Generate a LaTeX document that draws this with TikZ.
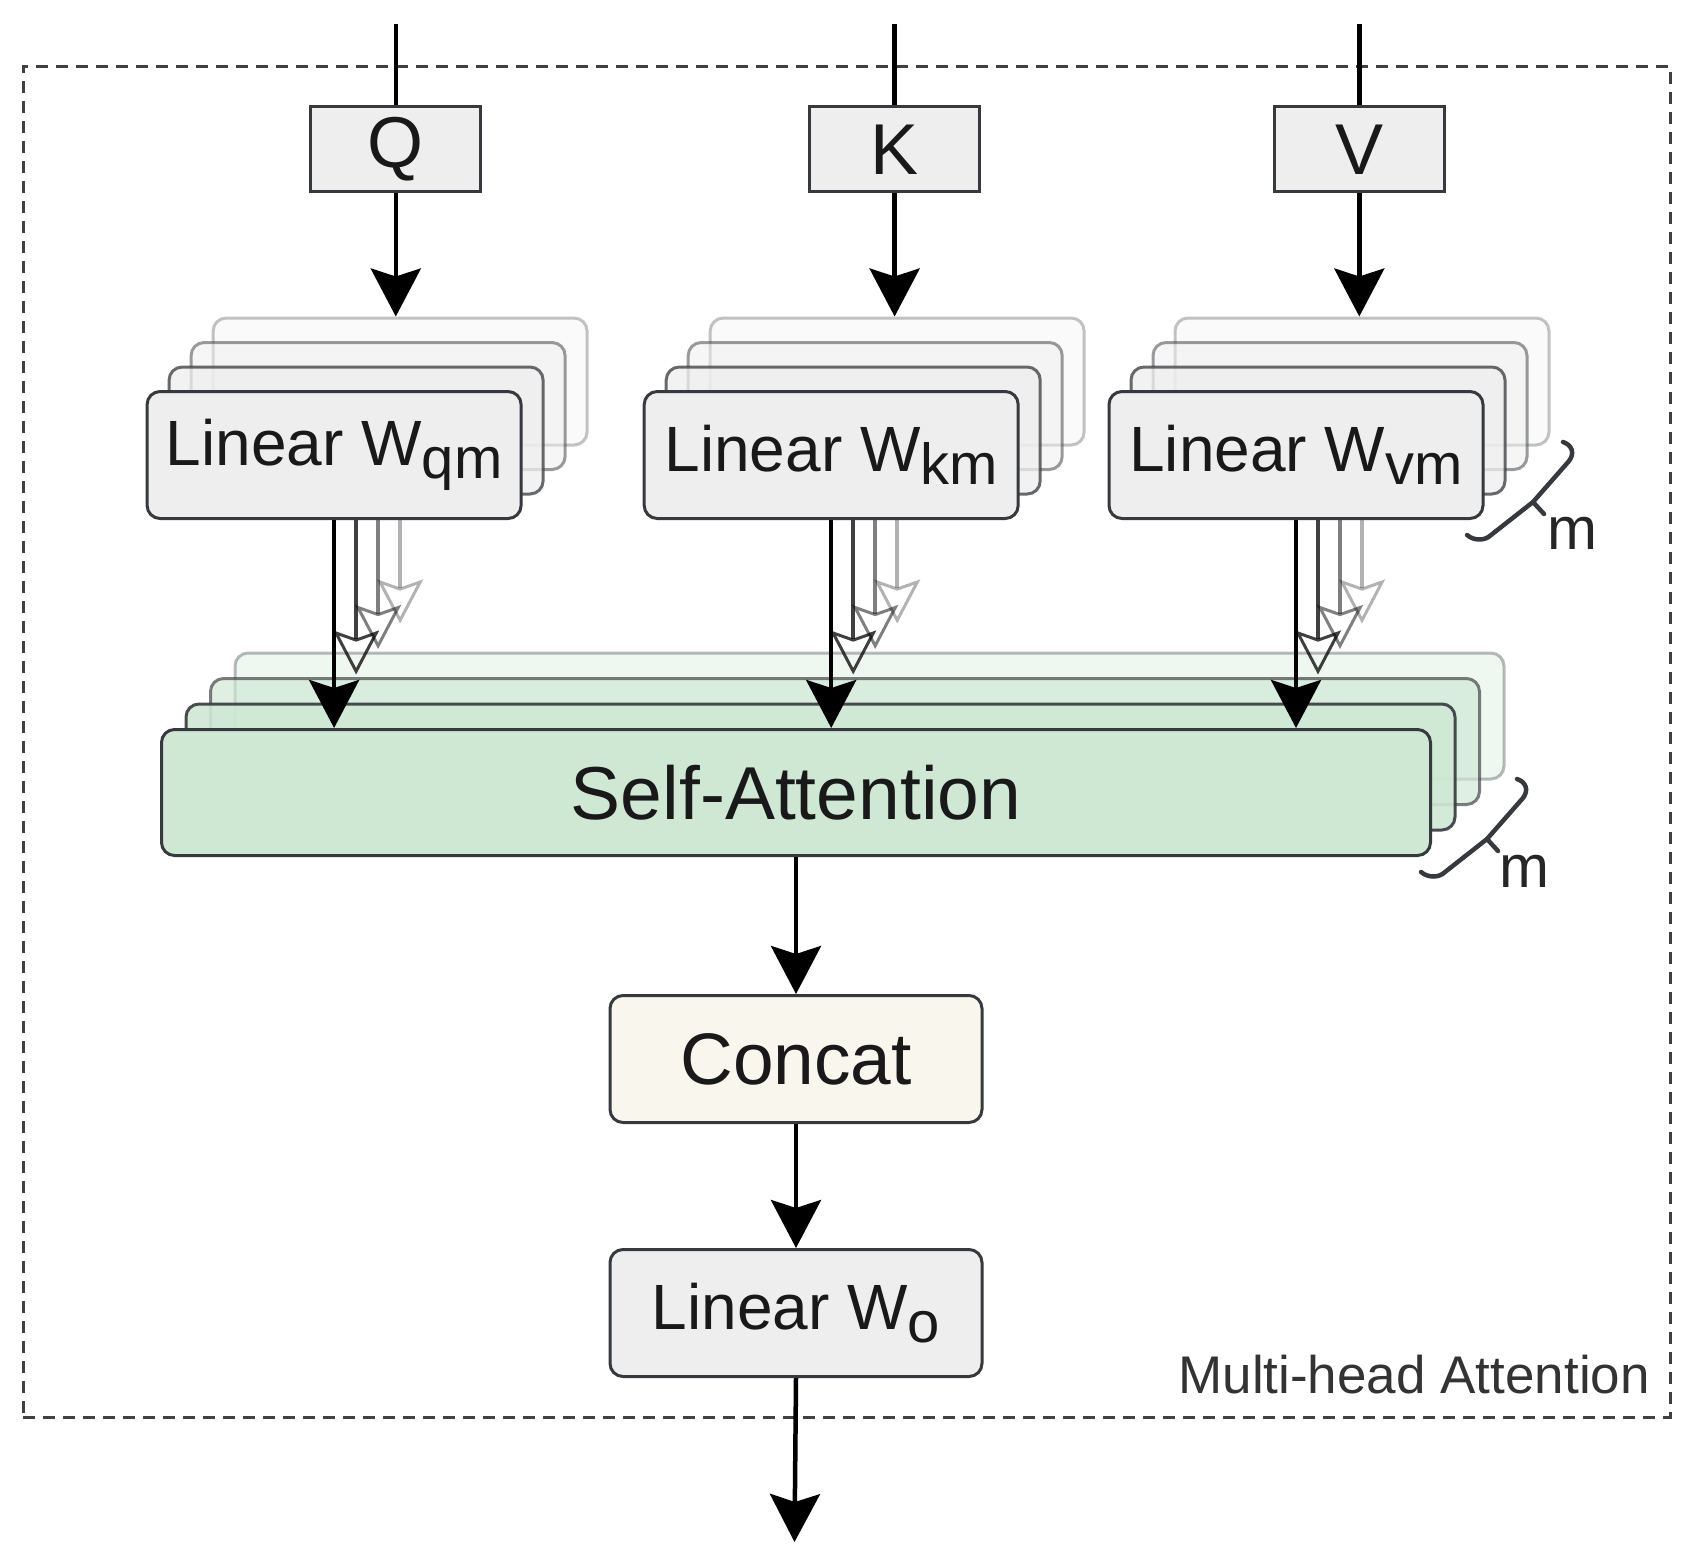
\documentclass[tikz,border=0pt]{standalone}
\usepackage{fontspec}
\setmainfont{Liberation Sans}
\usetikzlibrary{arrows.meta}
\definecolor{bd}{HTML}{36393D}
\definecolor{lgray}{HTML}{EEEEEE}
\definecolor{sag}{HTML}{CEE8D4}
\definecolor{cream}{HTML}{F9F7ED}
\definecolor{dgray}{HTML}{404040}
\newcommand\fsz[1]{\fontsize{#1}{#1}\selectfont}
\newcommand\wsub[1]{\raisebox{-13pt}{\fsz{58}#1}}
\tikzset{
  lin/.style={draw=bd, fill=lgray, rounded corners=13pt, line width=3pt,
    minimum width=374pt, minimum height=127pt, inner sep=0pt, anchor=north west,
    font=\fsz{64}, text=black!90},
  sab/.style={draw=bd, fill=sag, rounded corners=13pt, line width=3pt,
    minimum width=1269pt, minimum height=126pt, inner sep=0pt, anchor=north west,
    font=\fsz{75}, text=black!90},
  inbox/.style={draw=bd, fill=lgray, line width=3pt, minimum width=170pt,
    minimum height=85pt, inner sep=0pt, font=\fsz{72}, text=black!90},
  outbox/.style={draw=bd, rounded corners=13pt, line width=3pt,
    minimum width=372pt, minimum height=127pt, inner sep=0pt, anchor=north west},
  arr/.style={line width=4.5pt, -{Stealth[length=48pt,width=50pt,inset=8pt]}},
  farr/.style={line width=4.5pt, -{Stealth[length=44pt,width=46pt,inset=8pt,open,line width=3pt]}},
  plainline/.style={line width=4.5pt},
  brc/.style={draw=bd, line width=4.5pt, line cap=round, line join=round},
  mlabel/.style={font=\fsz{60}, text=black!85, inner sep=0pt},
}
\begin{document}
\begin{tikzpicture}[x=1pt, y=-1pt]
\useasboundingbox (0,0) rectangle (1691,1560);
% outer dashed frame
\node[draw=dgray, line width=3pt, dash pattern=on 12pt off 8pt,
  minimum width=1647pt, minimum height=1351pt, inner sep=0pt, anchor=north west]
  (mha) at (21.6,64.7) {};
\node[anchor=base east, font=\fsz{53}, text=black!80, inner sep=0pt] (lbl) at (1650,1393) {Multi-head Attention};
% self-attention stack
\foreach \k/\op in {3/0.35, 2/0.65, 1/0.9}
  \node[sab, opacity=\op] (sa\k) at (160+24.5*\k, 728-25.5*\k) {};
\node[sab] (sa0) at (160,728) {Self-Attention};
% inputs
\node[inbox] (q) at (395.8,149.4) {Q};
\node[inbox] (k) at (894.6,149.4) {K};
\node[inbox] (v) at (1359.3,149.4) {V};
\foreach \n in {q,k,v}{
  \coordinate (\n in) at (\n.north |- 0,24);
  \draw[plainline] (\n in) -- (\n.north);
}
% linear stacks
\foreach \n/\bx/\s in {q/145.6/qm, k/642.7/km, v/1107.5/vm}{
  \foreach \k/\op in {3/0.3, 2/0.5, 1/0.75}{
    \node[lin, opacity=\op] (l\n\k) at (\bx+22*\k, 390-24.5*\k) {};
    \draw[farr, opacity=\op, shorten >=28pt] (l\n\k.south) -- (l\n\k.south |- sa\k.north);
  }
  \node[lin] (l\n0) at (\bx,390) {Linear W\wsub{\s}};
  \draw[arr] (l\n0.south) -- (l\n0.south |- sa0.north);
  \draw[arr] (\n.south) -- (\n.south |- l\n3.north);
}
% braces
\coordinate (bva) at (1563,442);
\coordinate (bsa) at (1517,779);
\foreach \c in {bva,bsa}{
  \draw[brc, shift={(\c)}] (0,0) .. controls (9,3) and (12,11) .. (6,19)
    -- (-30,60) -- (-72,93) .. controls (-78,99) and (-89,99) .. (-96,93);
  \draw[brc, shift={(\c)}] (-30,60) -- (-19,72);
}
\node[mlabel] (mv) at (1572,533) {m};
\node[mlabel] (ms) at (1524,871) {m};
% concat / output
\node[outbox, fill=cream, font=\fsz{73}, text=black!90] (cc) at (608.5,994) {Concat};
\node[outbox, fill=lgray, font=\fsz{64}, text=black!90] (wo) at (608.5,1248) {Linear W\wsub{o}};
\coordinate (out) at (794.5,1542);
\draw[arr] (sa0.south) -- (cc.north);
\draw[arr] (cc.south) -- (wo.north);
\draw[arr] (wo.south) -- (out);
\end{tikzpicture}
\end{document}
